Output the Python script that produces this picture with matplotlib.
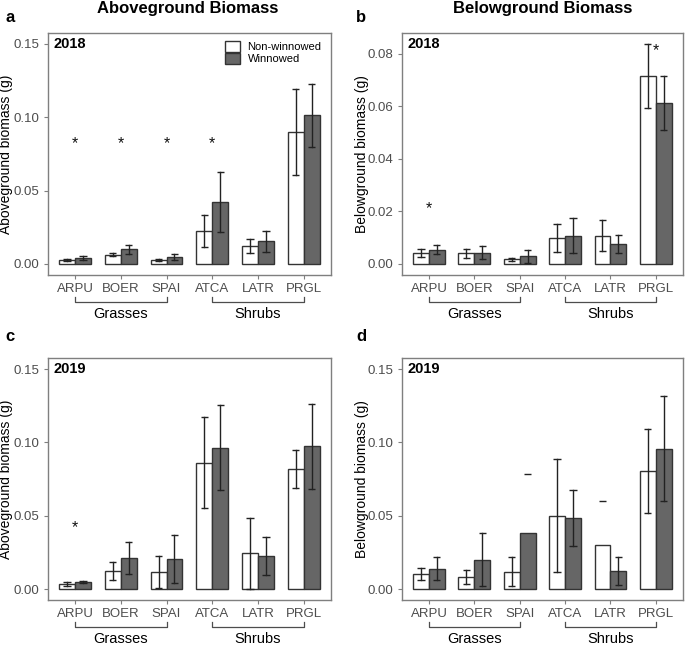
import matplotlib
matplotlib.use("Agg")
import matplotlib.pyplot as plt
import numpy as np

plt.rcParams['font.family'] = ['Liberation Sans', 'DejaVu Sans']

species = ["ARPU", "BOER", "SPAI", "ATCA", "LATR", "PRGL"]
groups = [("Grasses", 0, 2), ("Shrubs", 3, 5)]
legend_labels = ["Non-winnowed", "Winnowed"]

# Panel a: Aboveground 2018
a_nw = [0.0027, 0.0062, 0.0027, 0.0226, 0.0123, 0.0900]
a_nw_se = [0.0005, 0.0010, 0.0007, 0.0110, 0.0050, 0.0290]
a_w = [0.0041, 0.0100, 0.0048, 0.0425, 0.0155, 0.1014]
a_w_se = [0.0012, 0.0030, 0.0020, 0.0205, 0.0073, 0.0215]
a_star_y = [0.082, 0.082, 0.082, 0.082, None, None]

# Panel b: Belowground 2018
b_nw = [0.0041, 0.0041, 0.0017, 0.0100, 0.0108, 0.0716]
b_nw_se = [0.0015, 0.0017, 0.0005, 0.0053, 0.0059, 0.0121]
b_w = [0.0055, 0.0043, 0.0029, 0.0108, 0.0077, 0.0612]
b_w_se = [0.0018, 0.0025, 0.0024, 0.0066, 0.0034, 0.0102]
b_star_y = [0.021, None, None, None, None, 0.081]

# Panel c: Aboveground 2019
c_nw = [0.0034, 0.0123, 0.0116, 0.0862, 0.0244, 0.0818]
c_nw_se = [0.0016, 0.0059, 0.0106, 0.0309, 0.0243, 0.0130]
c_w = [0.0048, 0.0210, 0.0203, 0.0964, 0.0226, 0.0973]
c_w_se = [0.0009, 0.0108, 0.0165, 0.0292, 0.0130, 0.0289]
c_star_y = [0.0417, None, None, None, None, None]

# Panel d: Belowground 2019
d_nw = [0.0103, 0.0082, 0.0119, 0.0501, 0.0299, 0.0805]
d_nw_se = [0.0039, 0.0045, 0.0096, 0.0387, 0.0298, 0.0288]
d_w = [0.0139, 0.0201, 0.0383, 0.0486, 0.0123, 0.0957]
d_w_se = [0.0078, 0.0182, 0.0403, 0.0192, 0.0098, 0.0360]
d_nw_caponly = [False, False, False, False, True, False]
d_w_caponly = [False, False, True, False, False, False]
d_star_y = [None] * 6

W, H = 685, 645
fig = plt.figure(figsize=(W / 100, H / 100), dpi=100)

def px_axes(l, t, r, b):
    return fig.add_axes([l / W, 1 - b / H, (r - l) / W, (b - t) / H])

EDGE = "#333333"
WFILL = "#666666"
FRAME = "#7f7f7f"
TICKC = "#4d4d4d"

def panel(ax, nw, nw_se, w, w_se, stars, year, ylabel, yticks, ylim,
          nw_cap=None, w_cap=None, legend=False, ylab_x=-0.1235):
    x = np.arange(len(species))
    bw = 0.35
    ax.bar(x - bw / 2, nw, width=bw, color="white", edgecolor=EDGE, linewidth=1.0,
           label=legend_labels[0], zorder=2)
    ax.bar(x + bw / 2, w, width=bw, color=WFILL, edgecolor=EDGE, linewidth=1.0,
           label=legend_labels[1], zorder=2)
    capw = 0.08
    for xs, vals, ses, caps in [(x - bw / 2, nw, nw_se, nw_cap), (x + bw / 2, w, w_se, w_cap)]:
        for i, (xi, v, s) in enumerate(zip(xs, vals, ses)):
            top = v + s
            if caps is not None and caps[i]:
                ax.plot([xi - capw, xi + capw], [top, top], color="#222222", lw=1.0,
                        zorder=3, solid_capstyle="butt")
                continue
            bot = v - s
            ax.plot([xi, xi], [bot, top], color="#222222", lw=1.0, zorder=3)
            for yy in (bot, top):
                ax.plot([xi - capw, xi + capw], [yy, yy], color="#222222", lw=1.0,
                        zorder=3, solid_capstyle="butt")
    for i, sy in enumerate(stars):
        if sy is not None:
            ax.text(i, sy, "*", ha="center", va="center", fontsize=11.5,
                    color="#111111", zorder=4)
    ax.set_xlim(-0.6, len(species) - 0.4)
    ax.set_ylim(*ylim)
    ax.set_xticks(x)
    ax.set_xticklabels(species)
    ax.set_yticks(yticks)
    ax.set_yticklabels([f"{t:.2f}" for t in yticks])
    ax.tick_params(axis="both", colors=FRAME, labelcolor=TICKC, labelsize=9.5,
                   length=3, width=0.8, pad=3)
    for sp in ax.spines.values():
        sp.set_color(FRAME)
        sp.set_linewidth(1.0)
    ax.set_ylabel(ylabel, fontsize=10, color="black")
    ax.yaxis.set_label_coords(ylab_x, 0.5)
    ax.text(0.02, 0.955, year, transform=ax.transAxes, fontsize=10.5,
            fontweight="bold", ha="left", va="center")
    # group brackets
    for name, i0, i1 in groups:
        tr = ax.get_xaxis_transform()
        ax.plot([i0, i0, i1, i1], [-0.091, -0.112, -0.112, -0.091], transform=tr,
                color=TICKC, lw=0.9, clip_on=False)
        ax.text((i0 + i1) / 2, -0.16, name, transform=tr, ha="center", va="center",
                fontsize=10.5, color="black")
    if legend:
        ax.legend(loc="upper right", bbox_to_anchor=(0.99, 0.995), frameon=False,
                  fontsize=8, handlelength=1.3, handleheight=1.2,
                  handletextpad=0.7, labelspacing=0.02, borderaxespad=0.2)

ax_a = px_axes(47.7, 33, 331, 275)
ax_b = px_axes(401.7, 33, 683, 275)
ax_c = px_axes(47.7, 358, 331, 600)
ax_d = px_axes(401.7, 358, 683, 600)

lim15 = (-0.0075, 0.1575)
ticks15 = [0.0, 0.05, 0.10, 0.15]
panel(ax_a, a_nw, a_nw_se, a_w, a_w_se, a_star_y, "2018",
      "Aboveground biomass (g)", ticks15, lim15, legend=True)
panel(ax_b, b_nw, b_nw_se, b_w, b_w_se, b_star_y, "2018",
      "Belowground biomass (g)", [0.0, 0.02, 0.04, 0.06, 0.08], (-0.0042, 0.0879),
      ylab_x=-0.115)
panel(ax_c, c_nw, c_nw_se, c_w, c_w_se, c_star_y, "2019",
      "Aboveground biomass (g)", ticks15, lim15)
panel(ax_d, d_nw, d_nw_se, d_w, d_w_se, d_star_y, "2019",
      "Belowground biomass (g)", ticks15, lim15,
      nw_cap=d_nw_caponly, w_cap=d_w_caponly, ylab_x=-0.115)

fig.text(188 / W, 1 - 8 / H, "Aboveground Biomass", ha="center", va="center",
         fontsize=12, fontweight="bold")
fig.text(543 / W, 1 - 8 / H, "Belowground Biomass", ha="center", va="center",
         fontsize=12, fontweight="bold")
for lab, xp, yp in [("a", 5, 17), ("b", 356, 17), ("c", 5, 337), ("d", 356, 337)]:
    fig.text(xp / W, 1 - yp / H, lab, ha="left", va="center", fontsize=12,
             fontweight="bold")

fig.savefig("out.png", dpi=100)
